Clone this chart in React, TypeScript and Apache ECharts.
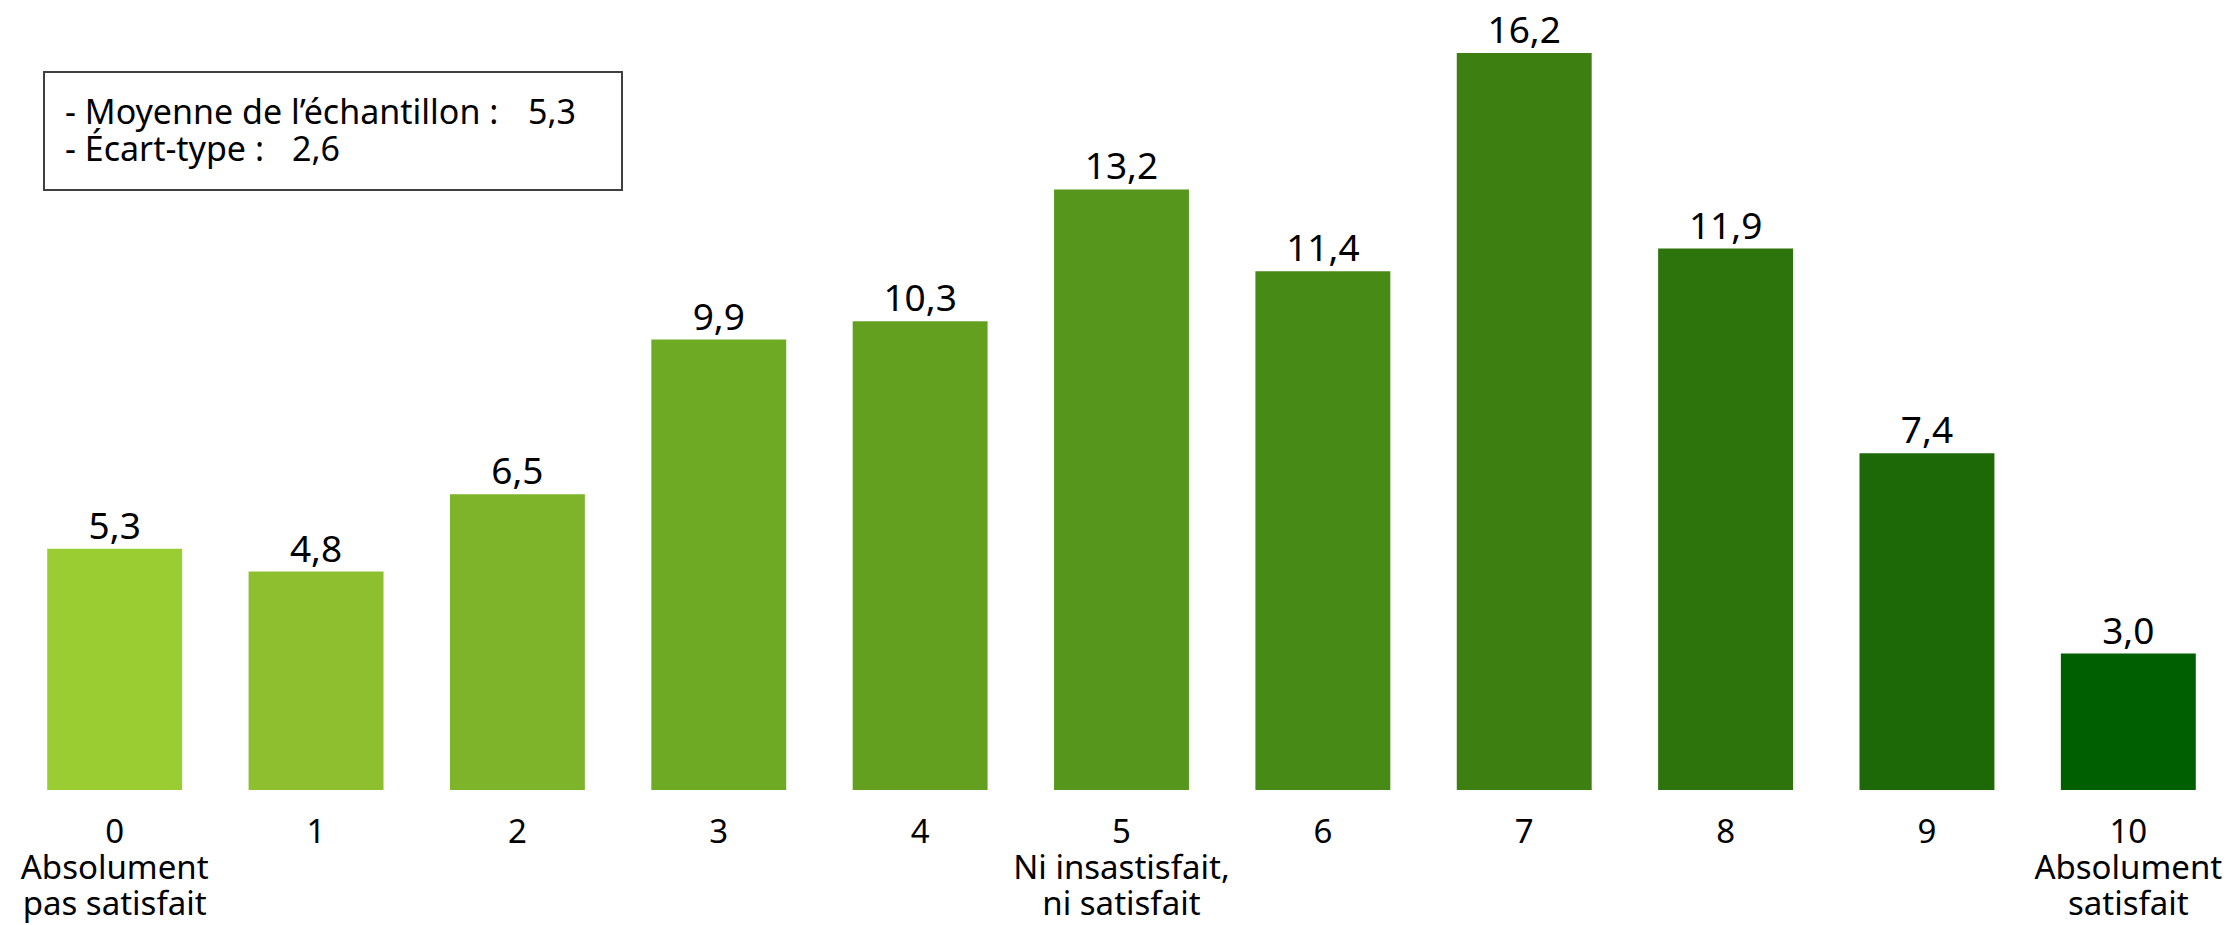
import React, { useEffect, useRef } from "react";
import * as echarts from "echarts";

const categories = [
  "0\nAbsolument\npas satisfait",
  "1",
  "2",
  "3",
  "4",
  "5\nNi insastisfait,\nni satisfait",
  "6",
  "7",
  "8",
  "9",
  "10\nAbsolument\nsatisfait",
];
const values = [5.3, 4.8, 6.5, 9.9, 10.3, 13.2, 11.4, 16.2, 11.9, 7.4, 3.0];
const barColors = [
  "#9ACD32",
  "#8DBF2E",
  "#7DB42A",
  "#6EAA24",
  "#64A020",
  "#57961C",
  "#488A16",
  "#3D7F11",
  "#2C740B",
  "#1D6807",
  "#005F00",
];
const statLabels = ["- Moyenne de l’échantillon :", "- Écart-type :"];
const statValues = ["5,3", "2,6"];

const FONT = "Noto Sans";

export default function App() {
  const ref = useRef<HTMLDivElement>(null);
  useEffect(() => {
    if (!ref.current) return;
    const chart = echarts.init(ref.current, null, { renderer: "svg" });
    const boxText = (text: string, x: number, y: number) => ({
      type: "text",
      x,
      y,
      z: 11,
      style: {
        text,
        fontFamily: FONT,
        fontSize: 34,
        lineHeight: 36,
        fill: "#000000",
        verticalAlign: "middle",
      },
    });
    chart.setOption({
      animation: false,
      backgroundColor: "#ffffff",
      grid: { left: 14, right: 4, top: 16.5, bottom: 135, containLabel: false },
      xAxis: {
        type: "category",
        data: categories,
        axisLine: { show: false },
        axisTick: { show: false },
        axisLabel: {
          interval: 0,
          margin: 22,
          fontFamily: FONT,
          fontSize: 33,
          lineHeight: 36,
          color: "#000000",
          align: "center",
        },
      },
      yAxis: {
        type: "value",
        min: 0,
        max: 17,
        show: false,
        splitLine: { show: false },
      },
      series: [
        {
          type: "bar",
          barWidth: "67%",
          data: values.map((v, i) => ({ value: v, itemStyle: { color: barColors[i] } })),
          label: {
            show: true,
            position: "top",
            distance: 6,
            fontFamily: FONT,
            fontSize: 37,
            color: "#000000",
            formatter: (p: any) => Number(p.value).toFixed(1).replace(".", ","),
          },
        },
      ],
      graphic: [
        {
          type: "rect",
          left: 43,
          top: 71,
          shape: { width: 578, height: 118 },
          style: { fill: "#ffffff", stroke: "#404040", lineWidth: 2 },
          z: 10,
        },
        boxText(statLabels[0], 65, 111),
        boxText(statValues[0], 528, 111),
        boxText(statLabels[1], 65, 148),
        boxText(statValues[1], 292, 148),
      ],
    });
    return () => chart.dispose();
  }, []);
  return (
    <div
      ref={ref}
      style={{ position: "absolute", left: 0, top: 0, width: 2233, height: 925, background: "#fff" }}
    />
  );
}
